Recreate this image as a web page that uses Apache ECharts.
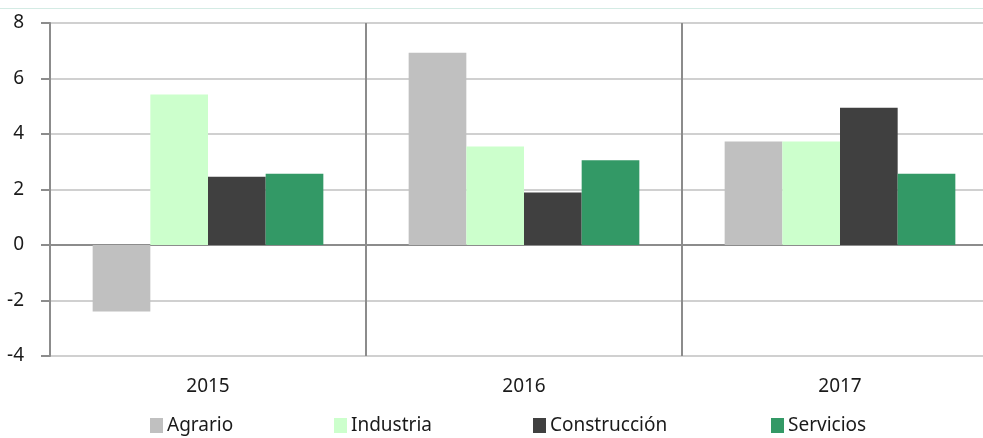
<!DOCTYPE html>
<html>
<head>
<meta charset="utf-8">
<script src="https://cdn.jsdelivr.net/npm/echarts@6/dist/echarts.min.js"></script>
<style>
  html, body { margin: 0; padding: 0; background: #fff; overflow: hidden; }
  /* the plot runs past the right edge in the original, so the canvas is wider than the window */
  #chart { width: 1010px; height: 438px; }
</style>
</head>
<body>
<div id="chart"></div>
<script>
  // data
  const years = ['2015', '2016', '2017'];
  const agrario = [-2.4, 6.93, 3.73];
  const industria = [5.42, 3.55, 3.73];
  const construccion = [2.46, 1.89, 4.95];
  const servicios = [2.57, 3.05, 2.57];
  const yTicks = [-4, -2, 0, 2, 4, 6, 8];

  const seriesDefs = [
    ['Agrario', agrario, '#c0c0c0', 150],
    ['Industria', industria, '#ccffcc', 334],
    ['Construcción', construccion, '#404040', 533],
    ['Servicios', servicios, '#339966', 771],
  ];

  const font = '"Noto Sans", sans-serif';
  const chart = echarts.init(document.getElementById('chart'), null, { renderer: 'canvas' });

  chart.setOption({
    animation: false,
    backgroundColor: '#ffffff',
    graphic: [{
      type: 'line',
      shape: { x1: 0, y1: 8.5, x2: 1010, y2: 8.5 },
      style: { stroke: '#d4ebe4', lineWidth: 1 },
    }],
    legend: seriesDefs.map(([name, , , left]) => ({
      data: [name],
      left,
      top: 416,
      padding: 0,
      itemWidth: 13,
      itemHeight: 15,
      itemGap: 0,
      icon: 'rect',
      textStyle: { fontFamily: font, fontSize: 19, color: '#1a1a1a', padding: [0, 0, 0, -1] },
    })),
    grid: { left: 50, right: 12, top: 23, bottom: 82, outerBoundsMode: 'none' },
    xAxis: {
      type: 'category',
      data: years,
      axisLine: { show: false },
      axisTick: { show: false },
      axisLabel: { fontFamily: font, fontSize: 19, color: '#1a1a1a', margin: 21 },
      splitLine: { show: true, lineStyle: { color: '#8c8c8c', width: 2 } },
    },
    yAxis: {
      type: 'value',
      min: yTicks[0],
      max: yTicks[yTicks.length - 1],
      interval: 2,
      axisLine: { show: true, lineStyle: { color: '#8c8c8c', width: 2 } },
      axisTick: { show: true, length: 9, lineStyle: { color: '#8c8c8c', width: 2 } },
      axisLabel: { fontFamily: font, fontSize: 19, color: '#1a1a1a', margin: 26 },
      splitLine: {
        show: true,
        lineStyle: {
          color: yTicks.map((t) => (t === 0 ? '#8c8c8c' : '#d0d0d0')),
          width: 2,
        },
      },
    },
    series: seriesDefs.map(([name, data, color]) => ({
      type: 'bar',
      name,
      data,
      barGap: '0%',
      barCategoryGap: '27%',
      itemStyle: { color },
    })),
  });
</script>
</body>
</html>
